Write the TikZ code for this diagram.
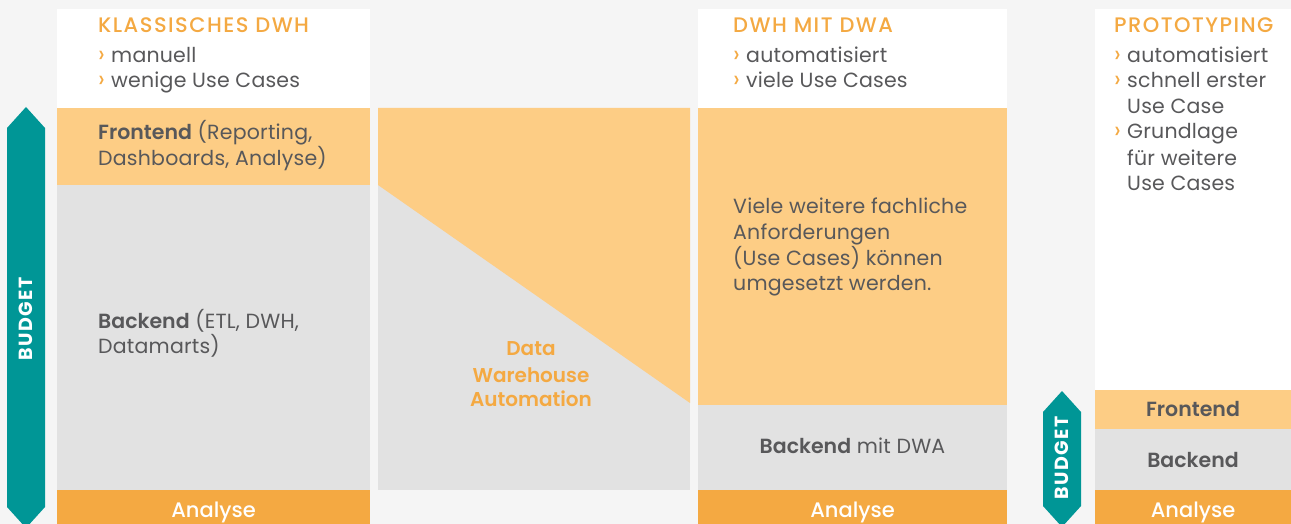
\documentclass[tikz,border=0pt]{standalone}
\usepackage{fontspec}
\setmainfont{Poppins}
\IfFontExistsTF{Poppins SemiBold}{\newfontfamily\semib{Poppins SemiBold}}{\newcommand\semib{\bfseries}}
\IfFontExistsTF{Poppins Medium}{\newfontfamily\medf{Poppins Medium}}{\newcommand\medf{\relax}}
\definecolor{bgc}{HTML}{F5F5F5}
\definecolor{orn}{HTML}{F4A942}
\definecolor{lorn}{HTML}{FDCD85}
\definecolor{lgr}{HTML}{E2E2E2}
\definecolor{teal}{HTML}{009696}
\definecolor{tgray}{HTML}{58585A}
\newcommand{\bul}{\makebox[13pt][l]{\color{orn}\fontsize{24}{26}\selectfont›}}
\newcommand{\nob}{\makebox[13pt][l]{}}
\newcommand{\semibtxt}[1]{{\semib #1}}
\begin{document}
\begin{tikzpicture}[x=1pt,y=-1pt,
  txt/.style={font=\fontsize{20.5}{26}\selectfont\addfontfeature{LetterSpace=1}, text=tgray, inner sep=0pt, anchor=base west},
  head/.style={font=\fontsize{21}{26}\selectfont\medf\addfontfeature{LetterSpace=7}, text=orn, inner sep=0pt, anchor=base west},
  ctxt/.style={txt, anchor=base},
  whitelbl/.style={font=\fontsize{21}{26}\selectfont\medf, text=white, inner sep=0pt, anchor=base},
  dwalbl/.style={font=\fontsize{20}{26}\selectfont\semib, text=orn, inner sep=0pt, anchor=base},
  budget/.style={font=\fontsize{19}{20}\selectfont\bfseries\addfontfeature{LetterSpace=8}, text=white, inner sep=0pt, rotate=90}]
\fill[bgc] (0,0) rectangle (1291,524);
\useasboundingbox (0,0) rectangle (1291,524);
% column 1
\fill[white] (57,9) rectangle (370,108);
\fill[lorn] (57,108) rectangle (370,185);
\fill[lgr] (57,185) rectangle (370,490);
\fill[orn] (57,490) rectangle (370,524);
% middle
\fill[lgr] (378,108) rectangle (690,490);
\fill[lorn] (378,108) -- (690,108) -- (690,403) -- (378,185) -- cycle;
% column 3
\fill[white] (698,9) rectangle (1007,108);
\fill[lorn] (698,108) rectangle (1007,405);
\fill[lgr] (698,405) rectangle (1007,490);
\fill[orn] (698,490) rectangle (1007,524);
% column 4
\fill[white] (1095,9) rectangle (1291,390);
\fill[lorn] (1095,390) rectangle (1291,429);
\fill[lgr] (1095,429) rectangle (1291,490);
\fill[orn] (1095,490) rectangle (1291,524);
% budget arrows
\fill[teal] (7,128) -- (26,107) -- (45,128) -- (45,507) -- (26,528) -- (7,507) -- cycle;
\fill[teal] (1043,412) -- (1062,391) -- (1081,412) -- (1081,506) -- (1062,527) -- (1043,506) -- cycle;
\node[budget] (bud1) at (26,319) {BUDGET};
\node[budget] (bud2) at (1062,458) {BUDGET};
% texts column 1
\node[head] (h1) at (98,33) {KLASSISCHES DWH};
\node[txt] (c1a) at (98,63) {\bul manuell};
\node[txt] (c1b) at (98,88) {\bul wenige Use Cases};
\node[txt] (fe1a) at (98,140) {\semibtxt{Frontend} (Reporting,};
\node[txt] (fe1b) at (98,166) {Dashboards, Analyse)};
\node[txt] (be1a) at (98,328) {\semibtxt{Backend} (ETL, DWH,};
\node[txt] (be1b) at (98,353) {Datamarts)};
\node[whitelbl] (an1) at (213.5,517) {Analyse};
% middle
\node[dwalbl] (d1) at (531,355) {Data};
\node[dwalbl] (d2) at (531,382) {Warehouse};
\node[dwalbl] (d3) at (531,406) {Automation};
% column 3
\node[head] (h3) at (733,33) {DWH MIT DWA};
\node[txt] (c3a) at (733,63) {\bul automatisiert};
\node[txt] (c3b) at (733,88) {\bul viele Use Cases};
\node[txt] (v1) at (733,213) {Viele weitere fachliche};
\node[txt] (v2) at (733,239) {Anforderungen};
\node[txt] (v3) at (733,265) {(Use Cases) können};
\node[txt] (v4) at (733,290) {umgesetzt werden.};
\node[ctxt] (be3) at (852.5,453) {\semibtxt{Backend} mit DWA};
\node[whitelbl] (an3) at (852.5,517) {Analyse};
% column 4
\node[head] (h4) at (1114,33) {PROTOTYPING};
\node[txt] (p1) at (1114,63) {\bul automatisiert};
\node[txt] (p2) at (1114,88) {\bul schnell erster};
\node[txt] (p3) at (1114,114) {\nob Use Case};
\node[txt] (p4) at (1114,139) {\bul Grundlage};
\node[txt] (p5) at (1114,165) {\nob für weitere};
\node[txt] (p6) at (1114,190) {\nob Use Cases};
\node[ctxt] (fe4) at (1193,416) {\semibtxt{Frontend}};
\node[ctxt] (be4) at (1193,467) {\semibtxt{Backend}};
\node[whitelbl] (an4) at (1193,517) {Analyse};
\end{tikzpicture}
\end{document}
